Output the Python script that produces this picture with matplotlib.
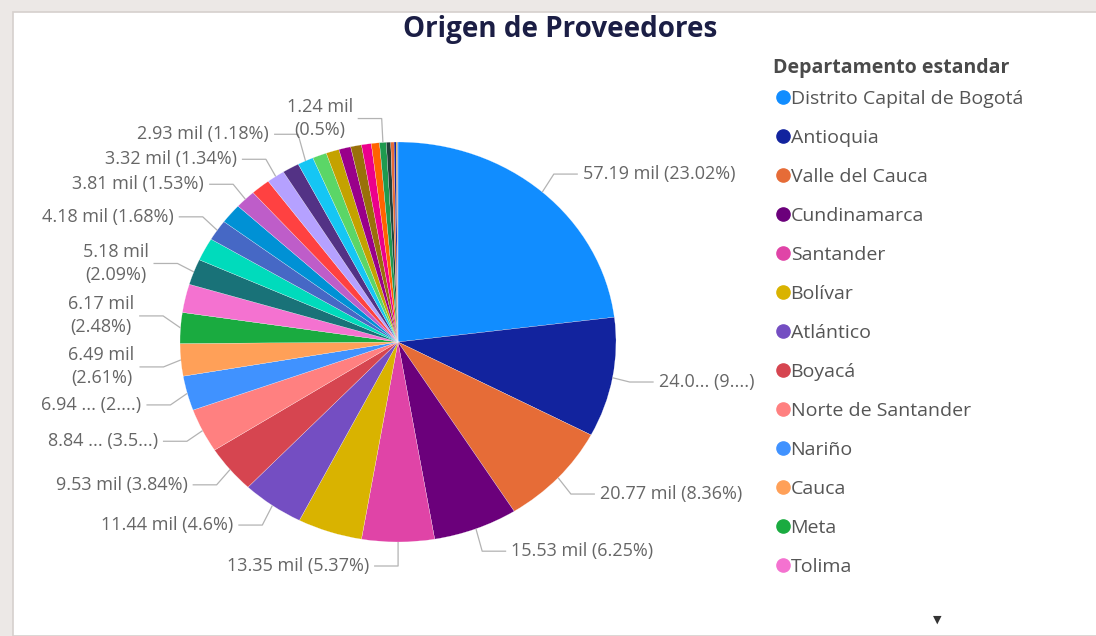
import numpy as np
import matplotlib.pyplot as plt
from matplotlib.lines import Line2D
from matplotlib.patches import Rectangle

plt.rcParams['font.family'] = ['Open Sans', 'DejaVu Sans']

# Datos (miles de proveedores por departamento)
departamentos = ['Distrito Capital de Bogotá', 'Antioquia', 'Valle del Cauca', 'Cundinamarca',
                 'Santander', 'Bolívar', 'Atlántico', 'Boyacá', 'Norte de Santander', 'Nariño',
                 'Cauca', 'Meta', 'Tolima', 'Caldas', 'Risaralda', 'Huila', 'Córdoba', 'Quindío',
                 'Cesar', 'Magdalena', 'Casanare', 'Sucre', 'La Guajira', 'Caquetá', 'Putumayo',
                 'Chocó', 'Arauca', 'San Andrés', 'Amazonas', 'Guaviare', 'Vichada', 'Vaupés',
                 'Guainía', 'Sin definir']
valores = [57.19, 24.02, 20.77, 15.53, 13.35, 11.9, 11.44, 9.53, 8.84, 6.94, 6.49, 6.17, 5.7,
           5.18, 4.6, 4.18, 4.0, 3.81, 3.55, 3.32, 3.1, 2.93, 2.6, 2.4, 2.2, 2.0, 1.8, 1.5,
           1.24, 0.8, 0.6, 0.4, 0.2, 0.12]
colores = ['#118DFF', '#12239E', '#E66C37', '#6B007B', '#E044A7', '#D9B300', '#744EC2', '#D64550',
           '#FF8080', '#4092FF', '#FFA058', '#1AAB40', '#F472D0', '#197278', '#00DBBC', '#4668C5',
           '#0091D5', '#BE5DC9', '#FF4141', '#B5A1FF', '#533285', '#15C6F4', '#5BD667', '#C4A200',
           '#99008A', '#99700A', '#EC008C', '#FF6300', '#1F9A4F', '#23403A', '#E66C37', '#12239E',
           '#D9B300', '#744EC2']
etiquetas = ['57.19 mil (23.02%)', '24.0... (9....)', '20.77 mil (8.36%)', '15.53 mil (6.25%)',
             '13.35 mil (5.37%)', '', '11.44 mil (4.6%)', '9.53 mil (3.84%)', '8.84 ... (3.5...)',
             '6.94 ... (2....)', '6.49 mil\n(2.61%)', '6.17 mil\n(2.48%)', '',
             '5.18 mil\n(2.09%)', '', '4.18 mil (1.68%)', '', '3.81 mil (1.53%)', '',
             '3.32 mil (1.34%)', '', '2.93 mil (1.18%)', '', '', '', '', '', '',
             '1.24 mil\n(0.5%)', '', '', '', '', '']
n_leyenda = 13

W, H = 1096, 636
CX, CY = 398, 342      # centro del pie (px)
RX, RY = 218, 200      # la captura viene estirada en horizontal

fig = plt.figure(figsize=(W / 100, H / 100), dpi=100)
fig.patch.set_facecolor('#ECE8E6')
fig.patches.append(Rectangle((13 / W, 0), 1, (H - 12) / H, transform=fig.transFigure,
                             fc='white', ec='#D6D0CD', lw=1.2, zorder=-5))

ax = fig.add_axes([0, 0, 1, 1])
ax.set_facecolor('none')
ax.set_zorder(2)
wedges, _ = ax.pie(valores, colors=colores, startangle=90, counterclock=False, radius=1,
                   wedgeprops=dict(edgecolor='white', linewidth=0.15))
ax.set_aspect('auto')
ax.set_xlim(-CX / RX, (W - CX) / RX)
ax.set_ylim(-(H - CY) / RY, CY / RY)
ax.axis('off')


def a_datos(px, py):
    return (px - CX) / RX, (CY - py) / RY


# etiquetas con líneas guía
etiq = []
for w, txt in zip(wedges, etiquetas):
    if not txt:
        continue
    ang = np.deg2rad((w.theta1 + w.theta2) / 2)
    ux, uy = np.cos(ang), np.sin(ang)
    lado = 1 if ux > 0.02 else -1
    nl = txt.count('\n') + 1
    p1x = CX + 1.08 * RX * ux
    borde = p1x + lado * 29
    ancho = max(len(s) for s in txt.split('\n')) * 8.5
    x0, x1 = (borde, borde + ancho) if lado > 0 else (borde - ancho, borde)
    etiq.append(dict(txt=txt, lado=lado, ax=CX + RX * ux, ay=CY - RY * uy,
                     p1x=p1x, ty=CY - 1.12 * RY * uy, h=22 if nl == 1 else 48,
                     x0=x0, x1=x1, borde=borde))

# separar etiquetas que se pisan
for _ in range(200):
    for i, a in enumerate(etiq):
        for b in etiq[i + 1:]:
            if a['lado'] != b['lado'] or a['x1'] < b['x0'] or b['x1'] < a['x0']:
                continue
            need = (a['h'] + b['h']) / 2 + 3
            d = b['ty'] - a['ty']
            if abs(d) < need:
                s = 1 if d >= 0 else -1
                push = (need - abs(d)) / 2
                a['ty'] -= s * push
                b['ty'] += s * push

for e in etiq:
    xs = [e['ax'], e['p1x'], e['p1x'] + e['lado'] * 24]
    ys = [e['ay'], e['ty'], e['ty']]
    dx, dy = a_datos(np.array(xs), np.array(ys))
    ax.plot(dx, dy, color='#B3B3B3', lw=0.9, solid_capstyle='butt')
    tx, ty = a_datos(e['borde'], e['ty'])
    ax.text(tx, ty, e['txt'], ha='left' if e['lado'] > 0 else 'right', va='center',
            fontsize=13, color='#666666', linespacing=1.35,
            multialignment='center' if '\n' in e['txt'] else 'left')

# título
fig.text(560 / W, 1 - 30 / H, 'Origen de Proveedores', ha='center', va='center',
         fontsize=20, fontweight='bold', color='#1B1E45')

# leyenda (título aparte para controlar el espacio)
fig.text(773 / W, 1 - 68 / H, 'Departamento estandar', ha='left', va='center',
         fontsize=14, fontweight='bold', color='#4A4A4A')
handles = [Line2D([], [], marker='o', ls='', markersize=9.5, markerfacecolor=c, markeredgecolor=c)
           for c in colores[:n_leyenda]]
leg = fig.legend(handles, departamentos[:n_leyenda], loc='upper left',
                 bbox_to_anchor=(776 / W, 1 - 90 / H), frameon=False, borderpad=0,
                 borderaxespad=0, handlelength=0.7, handletextpad=0.05, labelspacing=1.08,
                 fontsize=14, labelcolor='#555555')

fig.text(937 / W, 1 - 620 / H, '▼', ha='center', va='center', fontsize=8, color='#333333',
         family=['DejaVu Sans'])

fig.savefig('out.png', dpi=100, facecolor=fig.get_facecolor())
